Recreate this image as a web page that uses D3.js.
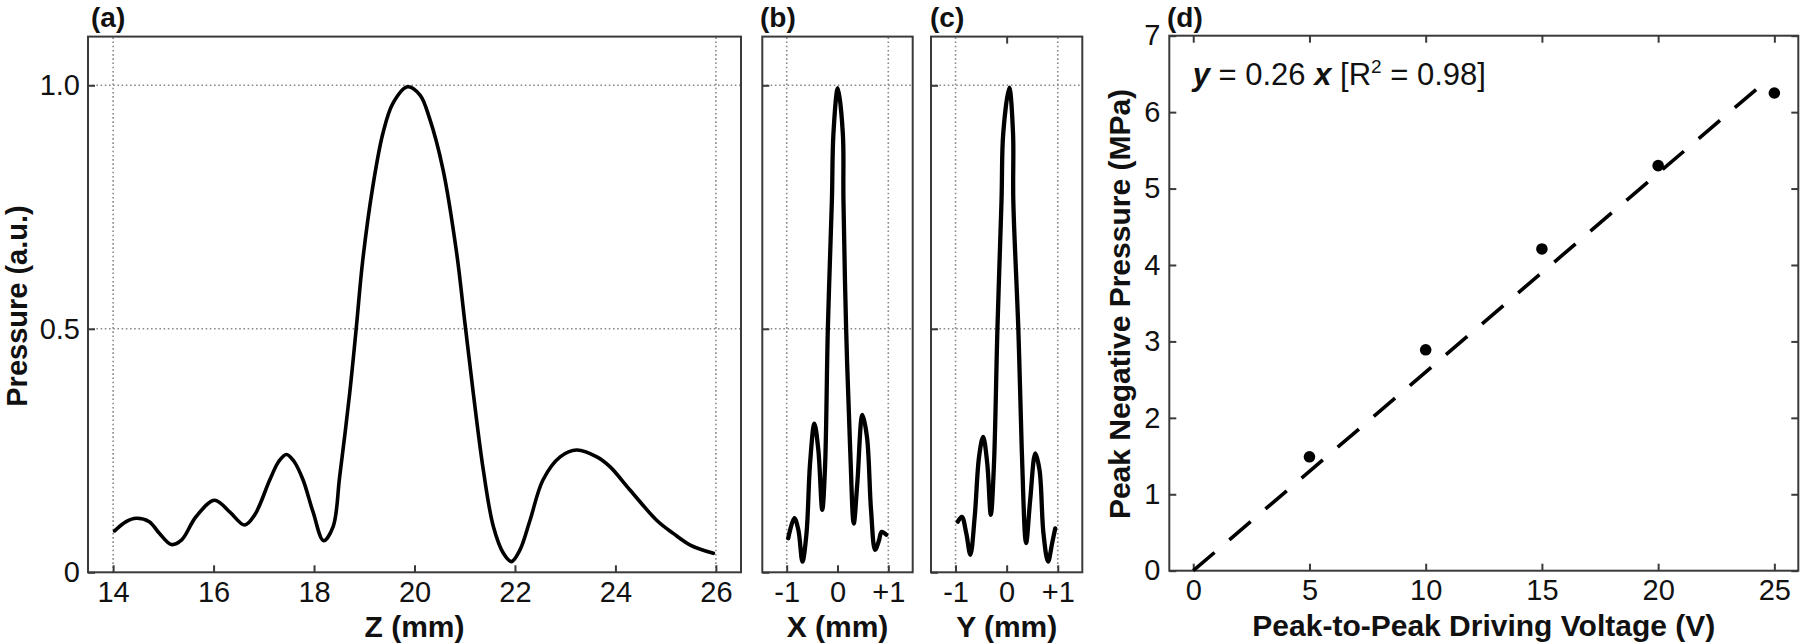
<!DOCTYPE html>
<html>
<head>
<meta charset="utf-8">
<script src="https://cdn.jsdelivr.net/npm/d3@7"></script>
<style>
  html, body { margin: 0; padding: 0; background: #fff; }
  svg { display: block; }
  text { font-family: "Liberation Sans", Arial, Helvetica, sans-serif; fill: #111; }
</style>
</head>
<body>
<svg id="chart" width="1800" height="644"></svg>
<script>
// ---------------- DATA ----------------
// (a) axial profile
const zA = [14.03, 14.26, 14.46, 14.72, 14.92, 15.16, 15.36, 15.65, 16.02, 16.32, 16.62, 16.82, 17.12, 17.30, 17.45, 17.60, 17.78, 17.98, 18.19, 18.38, 18.51, 18.71, 18.84, 18.97, 19.17, 19.37, 19.57, 19.86, 20.11, 20.30, 20.57, 20.84, 21.00, 21.17, 21.37, 21.57, 21.77, 21.93, 22.10, 22.30, 22.56, 22.90, 23.23, 23.63, 23.89, 24.29, 24.82, 25.15, 25.49, 25.95];
const pA = [0.085, 0.104, 0.111, 0.104, 0.080, 0.057, 0.066, 0.114, 0.148, 0.124, 0.097, 0.118, 0.190, 0.228, 0.242, 0.228, 0.190, 0.124, 0.065, 0.094, 0.196, 0.368, 0.501, 0.641, 0.792, 0.901, 0.963, 0.997, 0.980, 0.932, 0.826, 0.655, 0.515, 0.368, 0.210, 0.094, 0.039, 0.022, 0.046, 0.107, 0.190, 0.237, 0.251, 0.237, 0.217, 0.169, 0.107, 0.080, 0.056, 0.039];
// (b) lateral X profile
const xB = [-0.97, -0.85, -0.77, -0.69, -0.61, -0.54, -0.455, -0.377, -0.30, -0.245, -0.19, -0.11, -0.08, 0.006, 0.105, 0.117, 0.17, 0.25, 0.32, 0.39, 0.49, 0.58, 0.66, 0.74, 0.81, 0.87, 0.96];
const pB = [0.070, 0.111, 0.087, 0.022, 0.080, 0.224, 0.305, 0.251, 0.128, 0.217, 0.500, 0.765, 0.901, 0.994, 0.901, 0.765, 0.500, 0.251, 0.100, 0.183, 0.323, 0.278, 0.128, 0.046, 0.063, 0.083, 0.077];
// (c) lateral Y profile
const yC = [-0.955, -0.876, -0.79, -0.71, -0.625, -0.54, -0.46, -0.38, -0.31, -0.25, -0.18, -0.10, -0.067, 0.051, 0.125, 0.13, 0.229, 0.296, 0.38, 0.46, 0.56, 0.643, 0.72, 0.81, 0.89, 0.95];
const pC = [0.104, 0.114, 0.080, 0.036, 0.114, 0.237, 0.278, 0.224, 0.118, 0.217, 0.501, 0.765, 0.901, 0.995, 0.901, 0.765, 0.498, 0.251, 0.060, 0.148, 0.244, 0.210, 0.080, 0.022, 0.060, 0.090];
// (d) peak negative pressure vs driving voltage
const voltage = [5, 10, 15, 20, 25];
const pnp = [1.49, 2.89, 4.21, 5.30, 6.25];
const fitSlope = 0.26;
const fitRange = [0, 24.5];

// ticks
const zTicks = [14, 16, 18, 20, 22, 24, 26];
const zGrid = [14, 26];
const pTicks = [0, 0.5, 1.0];
const pTickLabels = ["0", "0.5", "1.0"];
const pGrid = [0.5, 1.0];
const xyTicks = [-1, 0, 1];
const xyTickLabels = ["-1", "0", "+1"];
const xyGrid = [-1, 1];
const vTicks = [0, 5, 10, 15, 20, 25];
const mpaTicks = [0, 1, 2, 3, 4, 5, 6, 7];

// ---------------- DRAW ----------------
const svg = d3.select("#chart");
const FS = 29;        // tick font
const TFS = 30;       // title font
const frameColor = "#3a3a3a";
const gridColor = "#8a8a8a";
const TICK = 7;

const yBottom = 572.3, yTop = 36.6;
const yP = d3.scaleLinear().domain([0, 1.1]).range([yBottom, yTop]);

function frame(x0, x1, y0, y1) {
  svg.append("rect").attr("x", x0).attr("y", y0)
    .attr("width", x1 - x0).attr("height", y1 - y0)
    .attr("fill", "none").attr("stroke", frameColor).attr("stroke-width", 2);
}

function grid(xs, ys, x, y) {
  const g = svg.append("g");
  const [x0, x1] = x.range(); const [y0, y1] = y.range();
  xs.forEach(v => g.append("line").attr("x1", x(v)).attr("x2", x(v)).attr("y1", y0).attr("y2", y1)
    .attr("stroke", gridColor).attr("stroke-width", 1.6).attr("stroke-dasharray", "1.6,2.6"));
  ys.forEach(v => g.append("line").attr("x1", x0).attr("x2", x1).attr("y1", y(v)).attr("y2", y(v))
    .attr("stroke", gridColor).attr("stroke-width", 1.6).attr("stroke-dasharray", "1.6,2.6"));
}

function styleAxis(g) {
  g.select(".domain").remove();
  g.selectAll(".tick line").attr("stroke", frameColor).attr("stroke-width", 2);
  g.selectAll(".tick text").attr("font-size", FS).attr("fill", "#111")
    .attr("font-family", '"Liberation Sans", Arial, sans-serif');
}

function bottomAxis(x, ticks, labels, yPos, showLabels = true) {
  const ax = d3.axisBottom(x).tickValues(ticks).tickSizeInner(-TICK).tickSizeOuter(0).tickPadding(9)
    .tickFormat((d, i) => showLabels ? (labels ? labels[i] : d) : "");
  const g = svg.append("g").attr("transform", `translate(0,${yPos})`).call(ax);
  styleAxis(g);
}
function leftAxis(y, ticks, labels, xPos, showLabels = true, pad = 8) {
  const ax = d3.axisLeft(y).tickValues(ticks).tickSizeInner(-TICK).tickSizeOuter(0).tickPadding(pad)
    .tickFormat((d, i) => showLabels ? (labels ? labels[i] : d) : "");
  const g = svg.append("g").attr("transform", `translate(${xPos},0)`).call(ax);
  styleAxis(g);
}
function topTicks(x, ticks, yPos) {
  const ax = d3.axisTop(x).tickValues(ticks).tickSizeInner(-TICK).tickSizeOuter(0).tickFormat("");
  const g = svg.append("g").attr("transform", `translate(0,${yPos})`).call(ax);
  styleAxis(g);
}
function rightTicks(y, ticks, xPos) {
  const ax = d3.axisRight(y).tickValues(ticks).tickSizeInner(-TICK).tickSizeOuter(0).tickFormat("");
  const g = svg.append("g").attr("transform", `translate(${xPos},0)`).call(ax);
  styleAxis(g);
}

function panelLabel(txt, x, y) {
  svg.append("text").attr("x", x).attr("y", y).attr("font-size", 28).attr("font-weight", "bold").text(txt);
}
function xTitle(txt, cx, y) {
  svg.append("text").attr("x", cx).attr("y", y).attr("text-anchor", "middle")
    .attr("font-size", TFS).attr("font-weight", "bold").text(txt);
}
function yTitle(txt, x, cy, fs = TFS) {
  svg.append("text").attr("transform", `translate(${x},${cy}) rotate(-90)`).attr("text-anchor", "middle")
    .attr("font-size", fs).attr("font-weight", "bold").text(txt);
}

const curve = (x, y, xs, ys, w) => {
  const line = d3.line().x((d, i) => x(xs[i])).y((d, i) => y(ys[i])).curve(d3.curveCatmullRom.alpha(0.5));
  svg.append("path").attr("d", line(xs)).attr("fill", "none").attr("stroke", "#000")
    .attr("stroke-width", w).attr("stroke-linejoin", "round").attr("stroke-linecap", "round");
};

// ----- Panel (a)
const xA = d3.scaleLinear().domain([13.5, 26.5]).range([88, 741]);
grid(zGrid, pGrid, xA, yP);
frame(88, 741, yTop, yBottom);
bottomAxis(xA, zTicks, null, yBottom);
leftAxis(yP, pTicks, pTickLabels, 88, true, 8);
curve(xA, yP, zA, pA, 3.6);
panelLabel("(a)", 91, 27);
xTitle("Z (mm)", (88 + 741) / 2, 637);
yTitle("Pressure (a.u.)", 27, 306, 29);

// ----- Panel (b)
const xBs = d3.scaleLinear().domain([-1.48, 1.48]).range([762.3, 912.7]);
grid(xyGrid, pGrid, xBs, yP);
frame(762.3, 912.7, yTop, yBottom);
bottomAxis(xBs, xyTicks, xyTickLabels, yBottom);
leftAxis(yP, pTicks, pTickLabels, 762.3, false);
curve(xBs, yP, xB, pB, 4.3);
panelLabel("(b)", 760, 27);
xTitle("X (mm)", 837.5, 637);

// ----- Panel (c)
const xCs = d3.scaleLinear().domain([-1.48, 1.48]).range([931, 1082.3]);
grid(xyGrid, pGrid, xCs, yP);
frame(931, 1082.3, yTop, yBottom);
bottomAxis(xCs, xyTicks, xyTickLabels, yBottom);
leftAxis(yP, pTicks, pTickLabels, 931, false);
topTicks(xCs, [0], yTop);
curve(xCs, yP, yC, pC, 4.3);
panelLabel("(c)", 930, 27);
xTitle("Y (mm)", 1006.7, 637);

// ----- Panel (d)
const xD = d3.scaleLinear().domain([-1.03, 26.03]).range([1169.3, 1798.3]);
const yD = d3.scaleLinear().domain([0, 7]).range([570.7, 35.7]);
frame(1169.3, 1798.3, 35.7, 570.7);
bottomAxis(xD, vTicks, null, 570.7);
leftAxis(yD, mpaTicks, null, 1169.3, true, 9);
topTicks(xD, vTicks, 35.7);
rightTicks(yD, mpaTicks, 1798.3);

svg.append("line")
  .attr("x1", xD(fitRange[0])).attr("y1", yD(fitSlope * fitRange[0]))
  .attr("x2", xD(fitRange[1])).attr("y2", yD(fitSlope * fitRange[1]))
  .attr("stroke", "#000").attr("stroke-width", 3.6).attr("stroke-dasharray", "28,19.5");

svg.append("g").selectAll("circle").data(voltage).join("circle")
  .attr("cx", d => xD(d)).attr("cy", (d, i) => yD(pnp[i])).attr("r", 5.8).attr("fill", "#000");

panelLabel("(d)", 1167, 27);
xTitle("Peak-to-Peak Driving Voltage (V)", (1169.3 + 1798.3) / 2, 636);
yTitle("Peak Negative Pressure (MPa)", 1130, 304);

const eq = svg.append("text").attr("x", 1192.7).attr("y", 85).attr("font-size", 31);
eq.append("tspan").attr("font-weight", "bold").attr("font-style", "italic").text("y");
eq.append("tspan").text(" = 0.26 ");
eq.append("tspan").attr("font-weight", "bold").attr("font-style", "italic").text("x");
eq.append("tspan").text(" [R");
eq.append("tspan").attr("font-size", 19).attr("dy", -12).text("2");
eq.append("tspan").attr("dy", 12).text(" = 0.98]");
</script>
</body>
</html>
